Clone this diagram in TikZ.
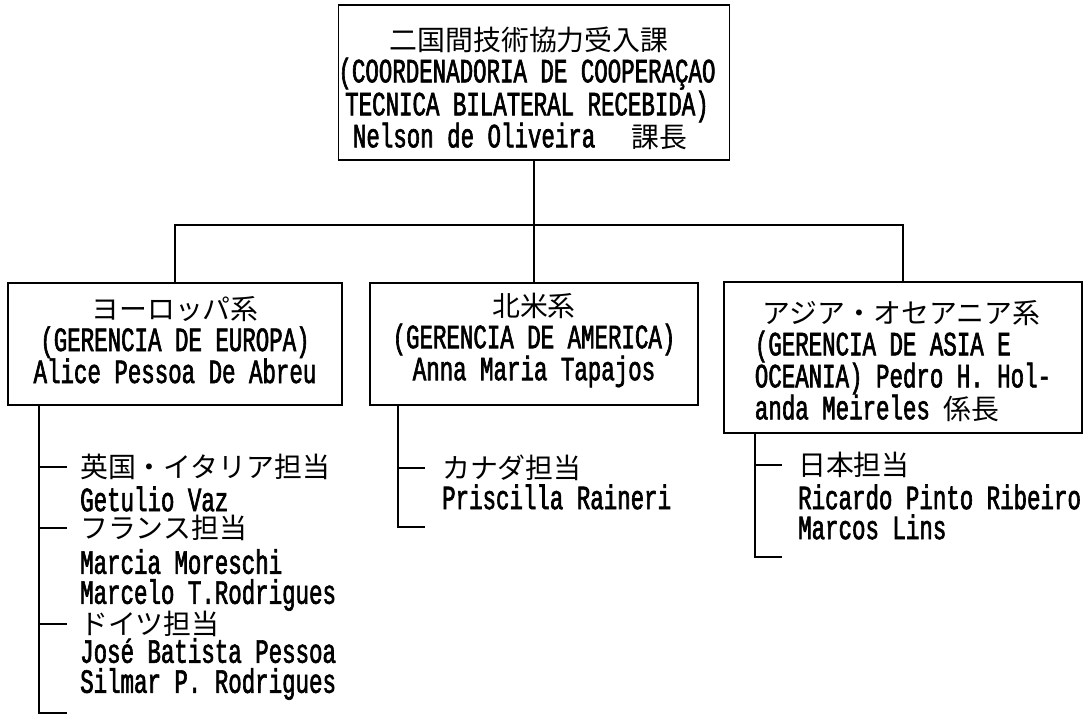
\documentclass[tikz,border=0pt]{standalone}
\usepackage{fontspec}
\setmainfont[FakeStretch=0.66,FakeBold=1.8]{Liberation Mono}
\newfontfamily\jp[Scale=0.82]{Noto Sans CJK JP}
\newcommand{\topstrut}[1]{\rule{0pt}{#1pt}}
\newcommand{\botstrut}[1]{\rule[-#1pt]{0pt}{#1pt}}
\begin{document}
\begin{tikzpicture}[x=1pt,y=-1pt,
  every node/.style={font=\fontsize{34}{30}\selectfont, inner sep=0pt},
  box/.style={draw, line width=1.8pt, align=center, font=\fontsize{34}{32}\selectfont},
  lbl/.style={anchor=west, align=left},
  conn/.style={line width=1.8pt}]
\useasboundingbox (0,0) rectangle (1089,715);
% boxes
\node[box, minimum width=388pt, minimum height=155pt] (top) at (534,82.5)
  {\topstrut{35}{\jp 二国間技術協力受入課}\rule{10pt}{0pt}\\(COORDENADORIA DE COOPERAÇAO\rule{14pt}{0pt}\\TECNICA BILATERAL RECEBIDA)\rule{14pt}{0pt}\\Nelson de Oliveira\hspace{36pt}{\jp 課長}\rule{28pt}{0pt}};
\node[box, minimum width=334pt, minimum height=122pt] (eu) at (175,344)
  {{\jp ヨーロッパ系}\\(GERENCIA DE EUROPA)\\Alice Pessoa De Abreu\botstrut{9}};
\node[box, minimum width=328pt, minimum height=122pt] (am) at (534,344)
  {{\jp 北米系}\\(GERENCIA DE AMERICA)\\Anna Maria Tapajos\botstrut{15}};
\node[box, minimum width=358pt, minimum height=151pt, align=left] (as) at (903,357.5)
  {\topstrut{30}\hspace{8pt}{\jp アジア・オセアニア系}\\(GERENCIA DE ASIA E\\OCEANIA) Pedro H. Hol-\\anda Meireles {\jp 係長}};
% tree connectors
\coordinate (bus) at (534,225);
\draw[conn] (top.south) -- (bus);
\draw[conn] (eu.north) |- (bus) -| (as.north);
\draw[conn] (bus) -- (am.north);
% left group
\node[lbl] (uk) at (80,467) {\jp 英国・イタリア担当};
\node[lbl] (ukn) at (80,499) {Getulio Vaz};
\node[lbl] (fr) at (80,528) {\jp フランス担当};
\node[lbl] (frn) at (80,580) {Marcia Moreschi\\Marcelo T.Rodrigues};
\node[lbl] (de) at (80,624) {\jp ドイツ担当};
\node[lbl] (den) at (80,669) {José Batista Pessoa\\Silmar P. Rodrigues};
\coordinate (eub) at (39,713);
\draw[conn] (eu.south -| eub) -- (eub) -- ++(28,0);
\foreach \n in {uk,fr,de} \draw[conn] (\n.west -| eub) -- ([xshift=-13pt]\n.west);
% middle group
\node[lbl] (ca) at (442,468) {\jp カナダ担当};
\node[lbl] (can) at (442,497) {Priscilla Raineri};
\coordinate (amb) at (398,527);
\draw[conn] (am.south -| amb) -- (amb) -- ++(27,0);
\draw[conn] (ca.west -| amb) -- ([xshift=-17pt]ca.west);
% right group
\node[lbl] (jpn) at (798,465) {\jp 日本担当};
\node[lbl] (jpnn) at (798,512) {Ricardo Pinto Ribeiro\\Marcos Lins};
\coordinate (asb) at (755,557);
\draw[conn] (as.south -| asb) -- (asb) -- ++(27,0);
\draw[conn] (jpn.west -| asb) -- ([xshift=-16pt]jpn.west);
\end{tikzpicture}
\end{document}
